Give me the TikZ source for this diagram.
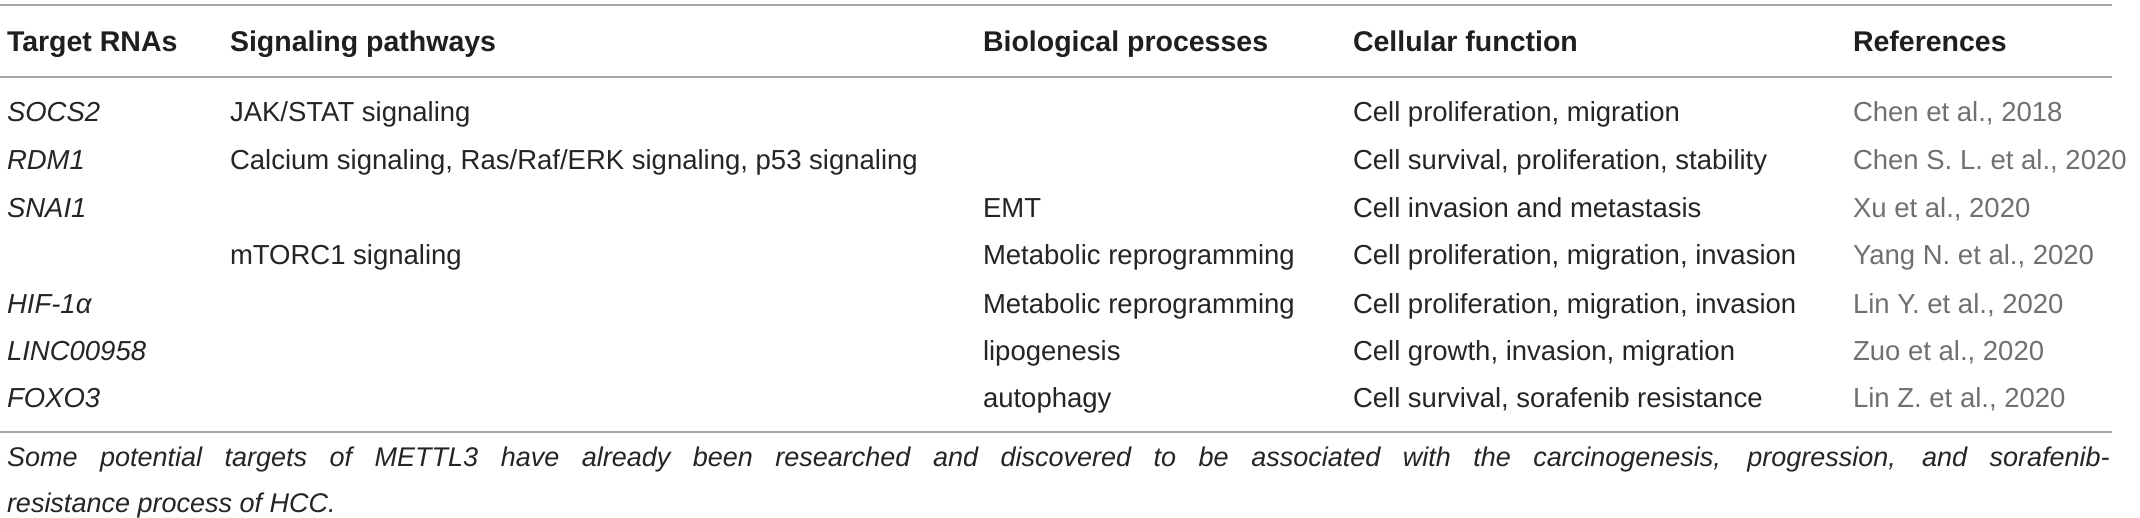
\documentclass[tikz,border=0pt]{standalone}
\usepackage{fontspec}
\setmainfont{Liberation Sans}
\definecolor{txt}{HTML}{262424}
\definecolor{reftxt}{HTML}{707070}
\definecolor{rulec}{HTML}{A6A6A6}
\begin{document}
\begin{tikzpicture}[x=1pt,y=-1pt,
  cell/.style={anchor=base west,inner sep=0pt,outer sep=0pt,text=txt,font=\fontsize{27.5}{33}\selectfont},
  head/.style={cell,font=\fontsize{28.5}{34}\bfseries\selectfont,text=black!88},
  gene/.style={cell,font=\fontsize{27.5}{33}\itshape\selectfont},
  ref/.style={cell,text=reftxt},
  capt/.style={cell,font=\fontsize{27}{33}\itshape\selectfont},
  tabrule/.style={draw=rulec,line width=2pt}]
\useasboundingbox (0,0) rectangle (2140,518);
\fill[white] (0,0) rectangle (2140,518);
% rules
\coordinate (t1) at (0,5);   \coordinate (t2) at (2112,5);
\coordinate (h1) at (0,77);  \coordinate (h2) at (2112,77);
\coordinate (b1) at (0,432); \coordinate (b2) at (2112,432);
\draw[tabrule] (t1) -- (t2);
\draw[tabrule] (h1) -- (h2);
\draw[tabrule] (b1) -- (b2);
% header
\node[head] (hA) at (7,52) {Target RNAs};
\node[head] (hB) at (230,52) {Signaling pathways};
\node[head] (hC) at (983,52) {Biological processes};
\node[head] (hD) at (1353,52) {Cellular function};
\node[head] (hE) at (1853,52) {References};
% row 1
\node[gene] (a1) at (7,122) {SOCS2};
\node[cell] (b1t) at (230,122) {JAK/STAT signaling};
\node[cell] (d1) at (1353,122) {Cell proliferation, migration};
\node[ref] (e1) at (1853,122) {Chen et al., 2018};
% row 2
\node[gene] (a2) at (7,170) {RDM1};
\node[cell] (b2t) at (230,170) {Calcium signaling, Ras/Raf/ERK signaling, p53 signaling};
\node[cell] (d2) at (1353,170) {Cell survival, proliferation, stability};
\node[ref] (e2) at (1853,170) {Chen S. L. et al., 2020};
% row 3
\node[gene] (a3) at (7,218) {SNAI1};
\node[cell] (c3) at (983,218) {EMT};
\node[cell] (d3) at (1353,218) {Cell invasion and metastasis};
\node[ref] (e3) at (1853,218) {Xu et al., 2020};
% row 4
\node[cell] (b4) at (230,265) {mTORC1 signaling};
\node[cell] (c4) at (983,265) {Metabolic reprogramming};
\node[cell] (d4) at (1353,265) {Cell proliferation, migration, invasion};
\node[ref] (e4) at (1853,265) {Yang N. et al., 2020};
% row 5
\node[gene] (a5) at (7,313) {HIF-1α};
\node[cell] (c5) at (983,313) {Metabolic reprogramming};
\node[cell] (d5) at (1353,313) {Cell proliferation, migration, invasion};
\node[ref] (e5) at (1853,313) {Lin Y. et al., 2020};
% row 6
\node[gene] (a6) at (7,360) {LINC00958};
\node[cell] (c6) at (983,360) {lipogenesis};
\node[cell] (d6) at (1353,360) {Cell growth, invasion, migration};
\node[ref] (e6) at (1853,360) {Zuo et al., 2020};
% row 7
\node[gene] (a7) at (7,407) {FOXO3};
\node[cell] (c7) at (983,407) {autophagy};
\node[cell] (d7) at (1353,407) {Cell survival, sorafenib resistance};
\node[ref] (e7) at (1853,407) {Lin Z. et al., 2020};
% caption
\node[capt] (cap1) at (7,466) {\hbox to 2103pt{Some potential targets of METTL3 have already been researched and discovered to be associated with the carcinogenesis, progression, and sorafenib-}};
\node[capt] (cap2) at (7,512) {resistance process of HCC.};
\end{tikzpicture}
\end{document}
